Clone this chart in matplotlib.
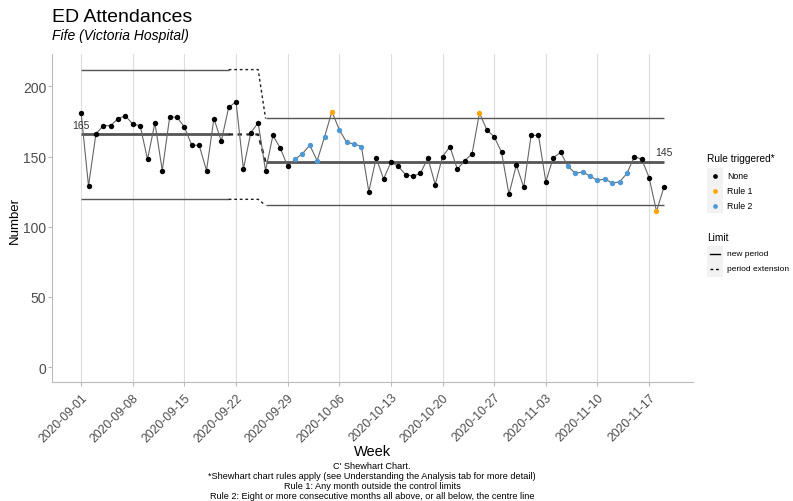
import numpy as np
import pandas as pd
import matplotlib
matplotlib.use('Agg')
import matplotlib.pyplot as plt
import matplotlib.dates as mdates
from matplotlib.patches import Rectangle

plt.rcParams['font.family'] = ['Liberation Sans', 'DejaVu Sans']

# --- data ---
start_date = '2020-09-01'
attendances = [181, 129, 166, 172, 172, 177, 179, 173, 172, 148,
               174, 140, 178, 178, 171, 158, 158, 140, 177, 161,
               185, 189, 141, 167, 174, 140,
               165, 156, 143, 148, 152, 158, 147, 164, 182, 169,
               160, 159, 157, 125, 149, 134, 146, 143, 137, 136,
               138, 149, 130, 150, 157, 141, 147, 152,
               181, 169, 164, 153, 123, 144, 128, 165, 165, 132,
               149, 153, 143, 138, 139, 136, 133, 134, 131, 132,
               138, 150, 148, 135, 111, 128]
rule1_idx = [34, 54, 78]
rule2_idx = [29, 30, 31, 32, 33, 35, 36, 37, 38,
             66, 67, 68, 69, 70, 71, 72, 73, 74]

# control limits per period: (centre, ucl, lcl)
period1 = (165.7, 211.9, 119.5)
period2 = (146.1, 177.1, 115.2)
period1_end = 20      # last day drawn solid for period 1
extension_end = 24    # period 1 limits extended up to here
period2_start = 25
centre_labels = ['165', '145']

tick_dates = ['2020-09-01', '2020-09-08', '2020-09-15', '2020-09-22', '2020-09-29',
              '2020-10-06', '2020-10-13', '2020-10-20', '2020-10-27', '2020-11-03',
              '2020-11-10', '2020-11-17']
y_ticks = [0, 50, 100, 150, 200]

caption = ("C' Shewhart Chart.\n"
           "*Shewhart chart rules apply (see Understanding the Analysis tab for more detail)\n"
           "Rule 1: Any month outside the control limits\n"
           "Rule 2: Eight or more consecutive months all above, or all below, the centre line")

# --- build frame ---
dates = pd.date_range(start_date, periods=len(attendances), freq='D')
df = pd.DataFrame({'date': dates, 'value': attendances})
df['rule'] = 'None'
df.loc[rule2_idx, 'rule'] = 'Rule 2'
df.loc[rule1_idx, 'rule'] = 'Rule 1'
colours = {'None': 'black', 'Rule 1': '#FFA500', 'Rule 2': '#4E98D3'}

W, H = 793, 502
fig = plt.figure(figsize=(W / 100, H / 100), dpi=100)
ax = fig.add_axes([52 / W, (H - 383) / H, (693 - 52) / W, (383 - 55) / H])

grey_line = '#555555'
d1 = df['date'][:period1_end + 1]
d_ext = df['date'][period1_end:period2_start + 1]
d2 = df['date'][period2_start:]
for k, lw in zip(range(3), [2.0, 1.0, 1.0]):
    ax.plot(d1, [period1[k]] * len(d1), color=grey_line, lw=lw, solid_capstyle='butt')
    ext_vals = [period1[k]] * (extension_end - period1_end + 1) + [period2[k]]
    ax.plot(d_ext, ext_vals, color='#222222', lw=1.0 if k else 1.6, ls=(0, (2, 2)))
    ax.plot(d2, [period2[k]] * len(d2), color=grey_line, lw=lw, solid_capstyle='butt')

# data line and points
ax.plot(df['date'], df['value'], color='#666666', lw=0.8, zorder=3)
for rule, grp in df.groupby('rule'):
    ax.scatter(grp['date'], grp['value'], s=15, color=colours[rule], zorder=4, linewidths=0)

# centre line labels
ax.text(df['date'].iloc[0], period1[0] + 3.5, centre_labels[0], ha='center', va='bottom',
        fontsize=7.5, color='#333333')
ax.text(df['date'].iloc[-1], period2[0] + 3.5, centre_labels[1], ha='center', va='bottom',
        fontsize=7.5, color='#333333')

# axes styling
ax.set_xlim(df['date'].iloc[0] - pd.Timedelta(days=3.95), df['date'].iloc[-1] + pd.Timedelta(days=3.95))
ax.set_ylim(-10.6, 223)
ax.set_xticks(pd.to_datetime(tick_dates))
ax.xaxis.set_major_formatter(mdates.DateFormatter('%Y-%m-%d'))
ax.set_yticks(y_ticks)
ax.grid(axis='x', color='#DDDDDD', lw=0.8)
ax.set_axisbelow(True)
for s in ['top', 'right']:
    ax.spines[s].set_visible(False)
for s in ['left', 'bottom']:
    ax.spines[s].set_color('#BBBBBB')
    ax.spines[s].set_linewidth(0.8)
ax.tick_params(colors='#BBBBBB', labelcolor='#4D4D4D', labelsize=10, length=3, width=0.8)
ax.tick_params(axis='y', pad=1.2)
ax.tick_params(axis='x', labelsize=8.8)
plt.setp(ax.get_xticklabels(), rotation=45, ha='right', rotation_mode='anchor')

# axis titles
fig.text(372 / W, 1 - 452 / H, 'Week', fontsize=10.5, ha='center', va='center')
fig.text(15 / W, 1 - 220 / H, 'Number', fontsize=9.5, rotation=90, ha='center', va='center')

# titles
fig.text(52 / W, 1 - 17 / H, 'ED Attendances', fontsize=14, va='center', ha='left')
fig.text(52 / W, 1 - 36 / H, 'Fife (Victoria Hospital)', fontsize=10, style='italic',
         va='center', ha='left')
fig.text(372 / W, 1 - 462 / H, caption, fontsize=6.6, ha='center', va='top', linespacing=1.15)

# legend drawn in pixel space
lax = fig.add_axes([0, 0, 1, 1], facecolor='none')
lax.set_xlim(0, W)
lax.set_ylim(H, 0)
lax.axis('off')
lax.text(707, 159, 'Rule triggered*', fontsize=7.3, va='center')
lax.add_patch(Rectangle((707, 169), 16, 45, color='#F2F2F2', lw=0))
for i, rule in enumerate(['None', 'Rule 1', 'Rule 2']):
    y = 176.7 + 15 * i
    lax.plot([715], [y], 'o', ms=3.4, color=colours[rule], mec='none')
    lax.text(727, y, rule, fontsize=6.3, va='center')
lax.text(707, 238, 'Limit', fontsize=7.3, va='center')
lax.add_patch(Rectangle((707, 247), 16, 31, color='#F2F2F2', lw=0))
lax.plot([710, 720], [255, 255], color='black', lw=1.0)
lax.plot([710, 720], [270, 270], color='black', lw=1.0, ls=(0, (2, 2)))
lax.text(727, 255, 'new period', fontsize=6, va='center')
lax.text(727, 270, 'period extension', fontsize=6, va='center')

fig.savefig('out.png', dpi=100)
